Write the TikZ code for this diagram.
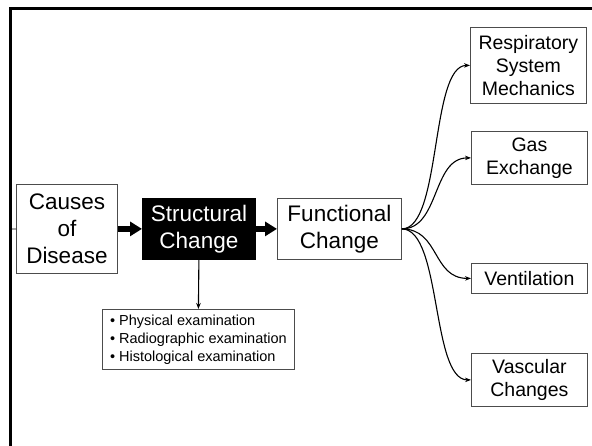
\documentclass[tikz,border=0pt]{standalone}
\usepackage{fontspec}
\setmainfont{Liberation Sans}
\usetikzlibrary{arrows.meta}
\begin{document}
\begin{tikzpicture}[x=1pt,y=-1pt,
 box/.style={draw=black!70,line width=0.8pt,inner sep=0pt,align=center,anchor=north west},
 big/.style={font=\fontsize{22.5}{27}\selectfont},
 small/.style={font=\fontsize{19.5}{23}\selectfont},
 fat/.style={line width=5.5pt,-{Triangle[length=12pt,width=14pt]}},
 thinarrow/.style={line width=1.1pt,-{Stealth[length=6pt,width=4.5pt]}}]
\useasboundingbox (0,0) rectangle (592,445);
\fill[white] (0,0) rectangle (592,445);
\draw[line width=2.5pt] (10.5,446) -- (10.5,8.5) -- (593,8.5);
\coordinate (edge) at (10.5,229);
% main row
\node[box,big,minimum width=101pt,minimum height=89pt] (causes) at (16,184) {Causes\\of\\Disease};
\node[box,big,fill=black,draw=black,text=white,minimum width=113pt,minimum height=61pt] (struct) at (142,198) {Structural\\Change};
\node[box,big,minimum width=124pt,minimum height=61pt] (func) at (277,198) {Functional\\Change};
\node[box,font=\fontsize{14.5}{18}\selectfont,align=left,minimum width=192pt,minimum height=60pt] (exam) at (102,309) {• Physical examination\\• Radiographic examination\\• Histological examination};
% right column
\node[box,small,minimum width=116pt,minimum height=76pt] (resp) at (470,27) {Respiratory\\System\\Mechanics};
\node[box,small,minimum width=116pt,minimum height=53pt] (gas) at (471,131) {Gas\\Exchange};
\node[box,small,minimum width=116pt,minimum height=30pt] (vent) at (471,263) {Ventilation};
\node[box,small,minimum width=116pt,minimum height=53pt] (vasc) at (471,353) {Vascular\\Changes};
% connectors
\draw[line width=0.8pt] (edge) -- (causes.west);
\draw[fat] (causes.east) -- (struct.west);
\draw[fat] (struct.east) -- (func.west);
\draw[thinarrow] (struct.south) -- (exam.north);
\draw[thinarrow] (func.east) .. controls +(40,0) and +(-40,0) .. (resp.west);
\draw[thinarrow] (func.east) .. controls +(38,0) and +(-39,0) .. (gas.west);
\draw[thinarrow] (func.east) .. controls +(38,0) and +(-39,0) .. (vent.west);
\draw[thinarrow] (func.east) .. controls +(40,0) and +(-40,0) .. (vasc.west);
\end{tikzpicture}
\end{document}
